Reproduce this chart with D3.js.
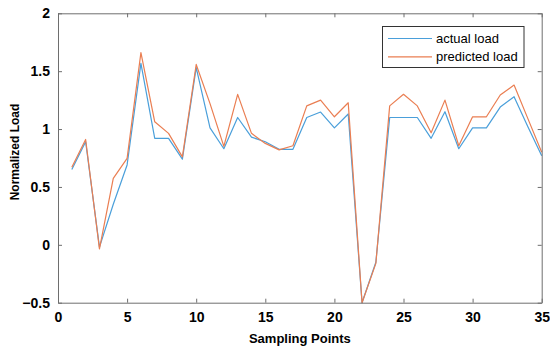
<!DOCTYPE html>
<html><head><meta charset="utf-8">
<script src="https://cdn.jsdelivr.net/npm/d3@7"></script>
<style>body{margin:0;background:#fff}svg{display:block}</style>
</head><body><svg id="c" width="550" height="348"></svg>
<script>
const samples = d3.range(1, 36);
const actualLoad = [0.65,0.89,-0.02,0.35,0.69,1.567,0.92,0.92,0.74,1.53,1.01,0.83,1.10,0.93,0.89,0.825,0.825,1.10,1.147,1.01,1.13,-0.5,-0.15,1.10,1.10,1.10,0.92,1.15,0.83,1.01,1.01,1.19,1.28,1.02,0.77];
const predictedLoad = [0.67,0.91,-0.035,0.574,0.747,1.66,1.063,0.963,0.76,1.558,1.22,0.85,1.30,0.963,0.876,0.82,0.856,1.20,1.25,1.106,1.227,-0.5,-0.16,1.20,1.30,1.20,0.968,1.25,0.856,1.106,1.106,1.294,1.38,1.09,0.80];
const xTicks = [0,5,10,15,20,25,30,35];
const yTicks = [-0.5,0,0.5,1,1.5,2];
const seriesNames = ["actual load","predicted load"];
const colors = ["#4A9FDA","#EA7E52"];

const svg = d3.select("#c");
const L=58, R=541.7, T=13.3, B=302.7;
const x = d3.scaleLinear().domain([0,35]).range([L,R]);
const y = d3.scaleLinear().domain([-0.5,2]).range([B,T]);
const axisColor="#6e6e6e";
const font="Liberation Sans, Arial, sans-serif";

// lines
const line = d3.line().x((d,i)=>x(samples[i])).y(d=>y(d));
[actualLoad,predictedLoad].forEach((s,k)=>{
  svg.append("path").datum(s).attr("d",line).attr("fill","none")
    .attr("stroke",colors[k]).attr("stroke-width",1.2).attr("stroke-linejoin","round");
});

// axes
function styleAxis(g){g.selectAll("path").attr("stroke",axisColor);g.selectAll("line").attr("stroke",axisColor);}
const xa = svg.append("g").attr("transform",`translate(0,${B})`)
  .call(d3.axisBottom(x).tickValues(xTicks).tickSizeInner(-4).tickSizeOuter(0).tickPadding(9));
const xt = svg.append("g").attr("transform",`translate(0,${T})`)
  .call(d3.axisTop(x).tickValues(xTicks).tickSizeInner(-4).tickSizeOuter(0).tickFormat(""));
const ya = svg.append("g").attr("transform",`translate(${L},0)`)
  .call(d3.axisLeft(y).tickValues(yTicks).tickSizeInner(-4).tickSizeOuter(0).tickPadding(8).tickFormat(d3.format("")));
const yr = svg.append("g").attr("transform",`translate(${R},0)`)
  .call(d3.axisRight(y).tickValues(yTicks).tickSizeInner(-4).tickSizeOuter(0).tickFormat(""));
[xa,xt,ya,yr].forEach(styleAxis);
[xa,ya].forEach(g=>g.selectAll("text").attr("fill","#000").style("font-family",font)
  .style("font-size","14px").style("font-weight","bold"));

// labels
svg.append("text").attr("x",(L+R)/2).attr("y",343).attr("text-anchor","middle")
  .style("font-family",font).style("font-size","13px").style("font-weight","bold").text("Sampling Points");
svg.append("text").attr("transform",`translate(19,152) rotate(-90)`).attr("text-anchor","middle")
  .style("font-family",font).style("font-size","12px").style("font-weight","bold").text("Normalized Load");

// legend
const lg = svg.append("g");
lg.append("rect").attr("x",382.5).attr("y",26.5).attr("width",141.5).attr("height",41)
  .attr("fill","#fff").attr("stroke","#333").attr("stroke-width",1);
seriesNames.forEach((n,i)=>{
  const yy = 38.5 + i*18.3;
  lg.append("line").attr("x1",388).attr("x2",432).attr("y1",yy).attr("y2",yy)
    .attr("stroke",colors[i]).attr("stroke-width",1.2);
  lg.append("text").attr("x",436).attr("y",yy+4.5).style("font-family",font)
    .style("font-size","13px").attr("fill","#000").text(n);
});
</script></body></html>
